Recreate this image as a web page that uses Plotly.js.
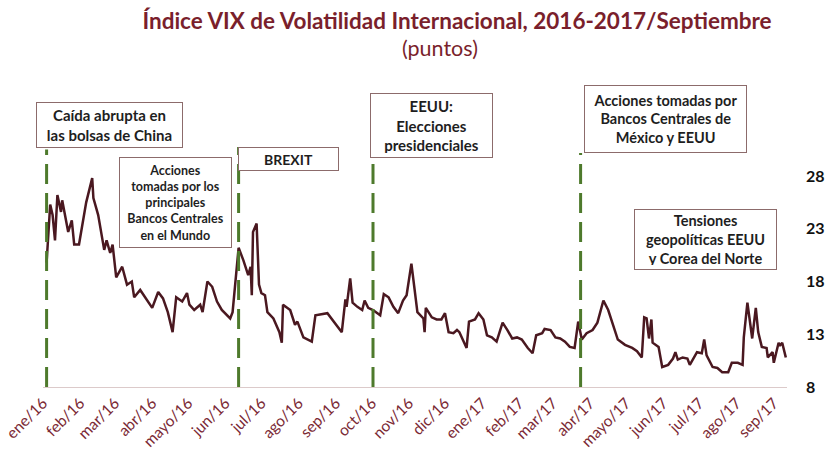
<!DOCTYPE html>
<html>
<head>
<meta charset="utf-8">
<script src="https://cdn.plot.ly/plotly-3.0.1.min.js"></script>
<style>
  html, body { margin: 0; padding: 0; background: #fff; }
  #chart { width: 836px; height: 472px; }
</style>
</head>
<body>
<div id="chart"></div>
<script>
// VIX, lecturas aproximadas del grafico
const fechas = [
  "2016-01-04","2016-01-07","2016-01-09","2016-01-11","2016-01-13","2016-01-16","2016-01-17","2016-01-20",
  "2016-01-22","2016-01-25","2016-01-27","2016-01-31","2016-02-02","2016-02-06","2016-02-11","2016-02-12",
  "2016-02-16","2016-02-19","2016-02-21","2016-02-23","2016-02-26","2016-02-28","2016-03-02","2016-03-07",
  "2016-03-11","2016-03-15","2016-03-17","2016-03-22","2016-03-27","2016-04-01","2016-04-06","2016-04-10",
  "2016-04-14","2016-04-18","2016-04-21","2016-04-26","2016-04-30","2016-05-02","2016-05-06","2016-05-11",
  "2016-05-13","2016-05-17","2016-05-21","2016-05-25","2016-05-29","2016-06-05","2016-06-07","2016-06-11",
  "2016-06-12","2016-06-16","2016-06-20","2016-06-22","2016-06-23","2016-06-24","2016-06-27","2016-06-29",
  "2016-07-01","2016-07-04","2016-07-06","2016-07-11","2016-07-16","2016-07-18","2016-07-19","2016-07-25",
  "2016-07-29","2016-07-31","2016-08-05","2016-08-12","2016-08-15","2016-08-25","2016-08-30","2016-09-06",
  "2016-09-09","2016-09-10","2016-09-13","2016-09-15","2016-09-19","2016-09-23","2016-09-25","2016-09-28",
  "2016-10-02","2016-10-08","2016-10-11","2016-10-15","2016-10-19","2016-10-23","2016-10-27","2016-10-30",
  "2016-11-03","2016-11-06","2016-11-08","2016-11-13","2016-11-14","2016-11-15","2016-11-20","2016-11-24",
  "2016-11-28","2016-12-01","2016-12-04","2016-12-08","2016-12-11","2016-12-13","2016-12-19","2016-12-21",
  "2016-12-26","2016-12-29","2017-01-02","2017-01-05","2017-01-09","2017-01-13","2017-01-18","2017-01-22",
  "2017-01-26","2017-01-30","2017-02-03","2017-02-08","2017-02-12","2017-02-15","2017-02-20","2017-02-22",
  "2017-02-27","2017-03-03","2017-03-07","2017-03-11","2017-03-15","2017-03-19","2017-03-22","2017-03-25",
  "2017-03-29","2017-04-03","2017-04-07","2017-04-12","2017-04-16","2017-04-24","2017-04-30","2017-05-06",
  "2017-05-10","2017-05-14","2017-05-16","2017-05-18","2017-05-20","2017-05-22","2017-05-23","2017-05-28",
  "2017-05-31","2017-06-05","2017-06-09","2017-06-11","2017-06-13","2017-06-17","2017-06-21","2017-06-23",
  "2017-06-26","2017-06-29","2017-07-03","2017-07-05","2017-07-07","2017-07-12","2017-07-16","2017-07-20",
  "2017-07-25","2017-07-28","2017-08-02","2017-08-06","2017-08-07","2017-08-10","2017-08-14","2017-08-17",
  "2017-08-19","2017-08-22","2017-08-26","2017-08-27","2017-08-31","2017-09-01","2017-09-05","2017-09-06",
  "2017-09-08","2017-09-11"
];
const vix = [
  19.8,25.3,24.3,21.9,26.2,24.6,25.7,24.0,
  22.7,23.8,21.5,21.5,22.9,25.5,27.8,25.9,
  24.3,22.4,21.0,21.9,20.7,21.5,18.4,19.4,
  17.7,18.0,16.5,17.2,16.4,15.5,17.0,16.4,
  15.1,13.2,16.5,16.1,16.9,15.8,15.3,15.8,
  15.1,18.0,17.5,16.1,15.3,14.5,15.1,19.6,
  21.2,20.0,18.6,19.4,16.7,22.7,23.5,17.7,
  16.9,16.7,15.1,14.5,13.2,12.2,15.8,15.3,
  13.9,14.2,12.7,12.3,14.8,15.0,14.2,13.2,
  16.3,15.6,18.3,16.0,15.6,15.3,16.2,15.5,
  15.3,14.8,16.8,16.5,15.6,15.0,16.2,16.7,
  19.7,17.2,15.1,14.5,13.2,15.5,14.6,14.4,
  14.4,15.0,13.2,13.1,13.4,13.2,11.7,14.2,
  14.4,15.0,14.4,12.9,12.7,12.3,14.1,13.4,
  12.6,12.7,12.5,11.7,11.2,12.9,13.1,13.5,
  13.4,12.7,12.6,12.3,11.8,11.7,14.2,12.5,
  13.1,13.4,14.1,16.2,15.3,12.5,12.0,11.7,
  11.4,10.8,14.6,14.5,12.6,14.4,12.2,11.8,
  9.9,10.1,10.7,11.3,10.6,10.8,10.7,10.1,
  10.7,11.3,11.2,12.5,11.0,9.9,9.8,9.4,
  9.4,10.3,10.3,10.1,12.7,16.0,12.6,15.5,
  13.2,11.8,11.7,10.8,11.3,10.3,12.2,11.9,
  12.2,10.8
];

const mesesVal = [
  "2016-01-01","2016-02-01","2016-03-01","2016-04-01","2016-05-01","2016-06-01","2016-07-01",
  "2016-08-01","2016-09-01","2016-10-01","2016-11-01","2016-12-01","2017-01-01","2017-02-01",
  "2017-03-01","2017-04-01","2017-05-01","2017-06-01","2017-07-01","2017-08-01","2017-09-01"
];
const mesesTxt = [
  "ene/16","feb/16","mar/16","abr/16","mayo/16","jun/16","jul/16","ago/16","sep/16","oct/16",
  "nov/16","dic/16","ene/17","feb/17","mar/17","abr/17","mayo/17","jun/17","jul/17","ago/17","sep/17"
];

// eventos: fecha de la linea punteada y altura (paper) donde termina
const eventoFechas = ["2016-01-04", "2016-06-12", "2016-10-02", "2017-03-24"];
const eventoTope = [0.99, 1.0, 0.945, 0.975];

const fontFam = "Lato, 'Open Sans', sans-serif";
const titulo = "#7a1f2c";

const data = [{
  x: fechas,
  y: vix,
  type: "scatter",
  mode: "lines",
  line: { color: "#4a1820", width: 2.5 },
  hoverinfo: "x+y"
}];

const shapes = eventoFechas.map((f, i) => ({
  type: "line",
  xref: "x", yref: "paper",
  x0: f, x1: f, y0: 0, y1: eventoTope[i],
  line: { color: "#4e7a2c", width: 3, dash: "20px,9px" }
}));

function caja(texto, x, y, w, h, size) {
  return {
    xref: "paper", yref: "paper",
    x: x, y: y, xanchor: "center", yanchor: "middle",
    text: texto, showarrow: false,
    width: w, height: h, align: "center", valign: "middle",
    bgcolor: "#ffffff", bordercolor: "#8c6b6b", borderwidth: 1, borderpad: 4,
    font: { family: fontFam, size: size, color: "#1e1e1e", weight: "bold" }
  };
}

const annotations = [
  caja("Caída abrupta en<br>las bolsas de China", 0.0894, 1.0917, 137, 36, 15),
  caja("Acciones<br>tomadas por los<br>principales<br>Bancos Centrales<br>en el Mundo", 0.1781, 0.7688, 103, 81, 12.5),
  caja("BREXIT", 0.330, 0.95, 91, 14, 14),
  caja("EEUU:<br>Elecciones<br>presidenciales", 0.5222, 1.0896, 113, 55, 15),
  caja("Acciones tomadas por<br>Bancos Centrales de<br>México y EEUU", 0.8367, 1.1167, 153, 58, 14.5),
  caja("Tensiones<br>geopolíticas EEUU<br>y Corea del Norte", 0.8905, 0.6146, 133, 51, 14.5),
  {
    xref: "paper", yref: "paper", x: 0.5336, y: 1.4125,
    xanchor: "center", yanchor: "middle", showarrow: false,
    text: "(puntos)",
    font: { family: fontFam, size: 21.5, color: titulo }
  }
];

const layout = {
  width: 836,
  height: 472,
  margin: { l: 43, r: 49, t: 147, b: 85 },
  paper_bgcolor: "#ffffff",
  plot_bgcolor: "#ffffff",
  showlegend: false,
  title: {
    text: "<b>Índice VIX de Volatilidad Internacional, 2016-2017/Septiembre</b>",
    font: { family: fontFam, size: 22.5, color: titulo },
    x: 0.5467, xanchor: "center",
    y: 0.955, yanchor: "middle", yref: "container"
  },
  xaxis: {
    type: "date",
    range: ["2016-01-01", "2017-09-12"],
    tickvals: mesesVal,
    ticktext: mesesTxt,
    tickangle: -45,
    tickfont: { family: fontFam, size: 15.5, color: "#7b2a35" },
    showgrid: false,
    zeroline: false,
    showline: true,
    linecolor: "#dccaca",
    linewidth: 1,
    ticks: ""
  },
  yaxis: {
    side: "right",
    range: [8, 30.75],
    tickvals: [8, 13, 18, 23, 28],
    tickfont: { family: fontFam, size: 16, color: "#111111", weight: "bold" },
    ticklabelstandoff: 18,
    showgrid: false,
    zeroline: false,
    showline: false,
    ticks: ""
  },
  shapes: shapes,
  annotations: annotations
};

Plotly.newPlot(document.getElementById("chart"), data, layout, { displayModeBar: false, staticPlot: true });
</script>
</body>
</html>
